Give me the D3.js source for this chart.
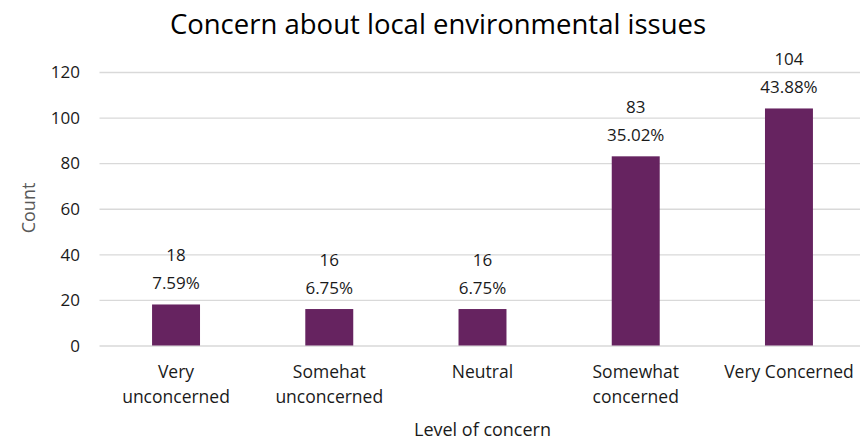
<!DOCTYPE html>
<html>
<head>
<meta charset="utf-8">
<script src="https://cdn.jsdelivr.net/npm/d3@7.9.0/dist/d3.min.js"></script>
<style>
  body { margin: 0; background: #fff; }
  svg { font-family: "Open Sans", "Noto Sans", sans-serif; }
</style>
</head>
<body>
<svg id="chart" width="860" height="440"></svg>
<script>
const categories = ['Very unconcerned', 'Somehat unconcerned', 'Neutral', 'Somewhat concerned', 'Very Concerned'];
const labelLines = [['Very', 'unconcerned'], ['Somehat', 'unconcerned'], ['Neutral'], ['Somewhat', 'concerned'], ['Very Concerned']];
const counts = [18, 16, 16, 83, 104];
const percents = ['7.59%', '6.75%', '6.75%', '35.02%', '43.88%'];
const yTicks = [0, 20, 40, 60, 80, 100, 120];

const svg = d3.select('#chart');

let x = d3.scaleBand().domain(categories).range([99.5, 865.5]).paddingInner(0.687).paddingOuter(0.343);
let y = d3.scaleLinear().domain([0, 120]).range([345.5, 72]);

// gridlines
svg.append('g')
    .attr('transform', 'translate(99.5,0)')
    .call(d3.axisLeft(y).tickValues(yTicks).tickSize(-766).tickFormat(''))
    .call(g => g.select('.domain').remove())
    .call(g => g.selectAll('line').attr('stroke', '#d9d9d9').attr('stroke-width', 1.3));

// y tick labels
svg.append('g')
    .selectAll('text')
    .data(yTicks)
    .join('text')
    .attr('x', 80)
    .attr('y', d => y(d) + 6.3)
    .attr('text-anchor', 'end')
    .attr('font-size', 17)
    .attr('fill', '#1a1a1a')
    .text(d => d);

// bars
svg.append('g')
    .selectAll('rect')
    .data(counts)
    .join('rect')
    .attr('x', (d, i) => x(categories[i]))
    .attr('y', d => y(d))
    .attr('width', x.bandwidth())
    .attr('height', d => y(0) - y(d))
    .attr('fill', '#662360');

// data labels
counts.forEach((d, i) => {
    let cx = x(categories[i]) + x.bandwidth() / 2;
    let t = svg.append('text')
        .attr('text-anchor', 'middle')
        .attr('font-size', 17)
        .attr('fill', '#1a1a1a');
    t.append('tspan').attr('x', cx).attr('y', y(d) - 43.5).text(d);
    t.append('tspan').attr('x', cx).attr('y', y(d) - 15.5).text(percents[i]);
});

// x labels
labelLines.forEach((lines, i) => {
    let cx = x(categories[i]) + x.bandwidth() / 2;
    let t = svg.append('text')
        .attr('text-anchor', 'middle')
        .attr('font-size', 17.5)
        .attr('fill', '#1a1a1a');
    lines.forEach((line, j) => {
        t.append('tspan').attr('x', cx).attr('y', 378 + j * 25).text(line);
    });
});

// title
svg.append('text')
    .attr('x', 438)
    .attr('y', 34)
    .attr('text-anchor', 'middle')
    .attr('font-size', 27.5)
    .attr('fill', '#000')
    .text('Concern about local environmental issues');

// axis titles
svg.append('text')
    .attr('x', 482.5)
    .attr('y', 436)
    .attr('text-anchor', 'middle')
    .attr('font-size', 18)
    .attr('fill', '#1a1a1a')
    .text('Level of concern');

svg.append('text')
    .attr('transform', 'translate(35,208) rotate(-90)')
    .attr('text-anchor', 'middle')
    .attr('font-size', 18)
    .attr('fill', '#595959')
    .text('Count');
</script>
</body>
</html>
